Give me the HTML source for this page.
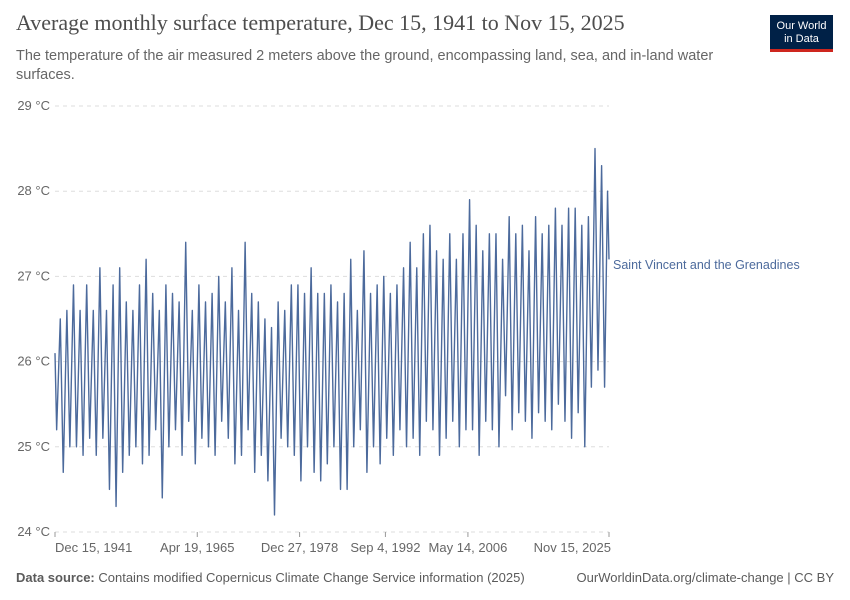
<!DOCTYPE html>
<html><head><meta charset="utf-8"><style>
body{margin:0;background:#fff;font-family:"Liberation Sans",sans-serif;}
#wrap{position:relative;width:850px;height:600px;overflow:hidden;}
.t{position:absolute;white-space:nowrap;}
</style></head><body>
<div id="wrap">
<div class="t" style="left:16px;top:10px;font-family:'Liberation Serif',serif;font-size:22px;color:#4d4d4d;">Average monthly surface temperature, Dec 15, 1941 to Nov 15, 2025</div>
<div class="t" style="left:16px;top:47px;font-size:14.5px;color:#666;line-height:19px;white-space:normal;width:725px;">The temperature of the air measured 2 meters above the ground, encompassing land, sea, and in-land water surfaces.</div>
<div style="position:absolute;left:770px;top:15px;width:63px;height:37px;background:#002147;border-bottom:3px solid #ce261e;box-sizing:border-box;color:#fff;font-size:11px;line-height:13px;text-align:center;padding-top:5px;">Our World<br>in Data</div>
<svg id="svg" width="850" height="600" style="position:absolute;left:0;top:0"></svg>
<div class="t" style="left:16px;top:570px;font-size:13px;color:#5b5b5b;"><b>Data source:</b> Contains modified Copernicus Climate Change Service information (2025)</div>
<div class="t" style="right:16px;top:570px;font-size:13px;color:#5b5b5b;">OurWorldinData.org/climate-change | CC BY</div>
</div>
<script>
const yTicks=[24,25,26,27,28,29];
const xTickLabels=["Dec 15, 1941","Apr 19, 1965","Dec 27, 1978","Sep 4, 1992","May 14, 2006","Nov 15, 2025"];
const xTickYears=[1941.95,1963.5,1979.0,1992.0,2004.5,2025.87];
const startValue=26.1;
const endValue=27.2;
const yearlyHighs=[26.5,26.6,26.9,26.6,26.9,26.6,27.1,26.6,26.9,27.1,
26.7,26.6,26.9,27.2,26.8,26.6,26.9,26.8,26.7,27.4,
26.6,26.9,26.7,26.8,27.0,26.7,27.1,26.6,27.4,26.8,
26.7,26.5,26.4,26.7,26.6,26.9,26.9,26.8,27.1,26.8,
26.8,26.9,26.7,26.8,27.2,26.6,27.3,26.8,26.9,27.0,
26.8,26.9,27.1,27.4,27.1,27.5,27.6,27.3,27.2,27.5,
27.2,27.5,27.9,27.6,27.3,27.5,27.5,27.2,27.7,27.5,
27.6,27.3,27.7,27.5,27.6,27.8,27.6,27.8,27.8,27.6,
27.7,28.5,28.3,28.0];
const yearlyLows=[25.2,24.7,25.0,25.0,24.9,25.1,24.9,25.1,24.5,24.3,
24.7,24.9,25.0,24.8,24.9,25.2,24.4,25.0,25.2,24.9,
25.3,24.8,25.1,25.0,24.9,25.3,25.1,24.8,24.9,25.2,
24.7,24.9,24.6,24.2,25.1,25.0,24.9,24.6,25.0,24.7,
24.6,24.8,25.0,24.5,24.5,25.0,25.2,24.7,25.0,24.8,
25.1,24.9,25.2,25.0,25.1,24.9,25.3,25.2,24.9,25.1,
25.3,25.0,25.2,25.2,24.9,25.3,25.2,25.0,25.6,25.2,
25.4,25.3,25.1,25.4,25.3,25.2,25.5,25.3,25.1,25.4,
25.0,25.7,25.9,25.7];
const X0=55,X1=609,T0=1941.95,T1=2025.87;
const x=t=>X0+(t-T0)/(T1-T0)*(X1-X0);
const y=v=>532-(v-24)*85.2;
const svg=document.getElementById('svg');const NS='http://www.w3.org/2000/svg';
function mk(tag,a){const e=document.createElementNS(NS,tag);for(const k in a)e.setAttribute(k,a[k]);svg.appendChild(e);return e;}
yTicks.forEach(v=>{
 const l=mk('line',{x1:X0,x2:X1,y1:y(v),y2:y(v),stroke:'#ddd','stroke-dasharray':'4,4'});
 
 
 const t=mk('text',{x:50,y:y(v)+4,'text-anchor':'end','font-size':13,fill:'#666','font-family':'Liberation Sans'});
 t.textContent=v+' °C';
 
 
});
xTickYears.forEach((yr,i)=>{
 const last=i==xTickYears.length-1;
 const tk=mk('line',{x1:x(yr),x2:x(yr),y1:532,y2:537,stroke:'#999'});
 
 
 const anchor=i==0?'start':(last?'end':'middle');
 const t=mk('text',{x:last?x(yr)+2:x(yr),y:552,'text-anchor':anchor,'font-size':13,fill:'#666','font-family':'Liberation Sans'});
 t.textContent=xTickLabels[i];
 
 
});
let pts=[[x(T0),y(startValue)]];
yearlyHighs.forEach((h,i)=>{
 pts.push([x(T0+i+0.25),y(yearlyLows[i])]);
 if(i<yearlyHighs.length-1) pts.push([x(T0+i+0.8),y(h)]);
 else pts.push([x(T0+i+0.7),y(h)]);
});
pts.push([x(T1),y(endValue)]);
const p=mk('polyline',{points:pts.map(q=>q.join(',')).join(' '),fill:'none',stroke:'#4c6a9c','stroke-width':1.4,'stroke-linejoin':'round'});


const lb=mk('text',{x:613,y:269,'font-size':12.5,fill:'#4c6a9c','font-family':'Liberation Sans'});
lb.textContent='Saint Vincent and the Grenadines';


</script>
</body></html>
